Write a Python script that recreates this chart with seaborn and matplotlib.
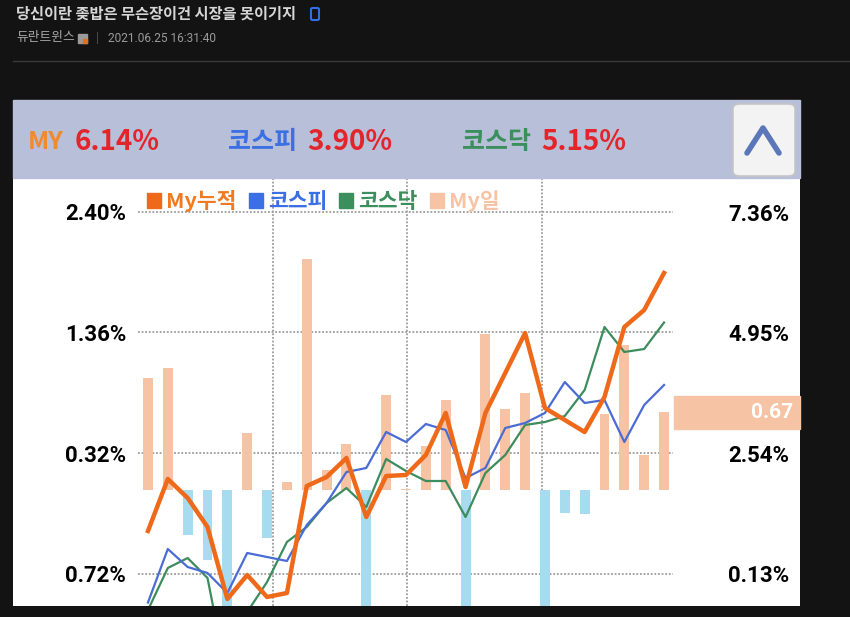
import numpy as np
import pandas as pd
import matplotlib
matplotlib.use("Agg")
import matplotlib.pyplot as plt
import matplotlib.transforms as mtransforms
from matplotlib.patches import Rectangle, FancyBboxPatch, Patch
from matplotlib.lines import Line2D
import seaborn as sns

plt.rcParams['font.family'] = ['Noto Sans CJK KR', 'DejaVu Sans']

### values (27 trading days)
days = list(range(27))
my_daily = [0.97, 1.05, -0.39, -0.60, -1.44, 0.49, -0.41, 0.07, 1.99, 0.17, 0.40, -1.18, 0.82, 0.01,
            0.38, 0.78, -1.48, 1.35, 0.70, 0.84, -1.50, -0.20, -0.21, 0.66, 1.25, 0.30, 0.67]
my_cum = [0.98, 2.02, 1.64, 1.06, -0.38, 0.10, -0.34, -0.26, 1.88, 2.06, 2.44, 1.26, 2.08, 2.10,
          2.50, 3.34, 1.86, 3.34, 4.14, 4.94, 3.44, 3.20, 2.96, 3.66, 5.06, 5.40, 6.14]
kospi_cum = [-0.45, 0.62, 0.26, 0.14, -0.26, 0.54, 0.46, 0.38, 1.10, 1.54, 2.16, 2.24, 2.96, 2.76,
             3.12, 3.00, 2.04, 2.24, 3.04, 3.14, 3.34, 3.96, 3.54, 3.60, 2.76, 3.50, 3.90]
kosdaq_cum = [-0.60, 0.24, 0.44, 0.04, -1.98, -0.64, -0.04, 0.76, 1.06, 1.54, 1.84, 1.46, 2.42, 2.18,
              1.98, 1.98, 1.26, 2.14, 2.50, 3.10, 3.16, 3.28, 3.80, 5.06, 4.56, 4.62, 5.15]

left_ticks = [-0.72, 0.32, 1.36, 2.40]
left_labels = ['0.72%', '0.32%', '1.36%', '2.40%']
right_ticks = [0.13, 2.54, 4.95, 7.36]
right_labels = ['0.13%', '2.54%', '4.95%', '7.36%']
week_breaks = [6.3, 13.05, 19.85]

header_names = ['MY', '코스피', '코스닥']
header_values = [6.14, 3.90, 5.15]
legend_labels = ['My누적', '코스피', '코스닥', 'My일']

post_title = '당신이란 좆밥은 무슨장이건 시장을 못이기지'
post_user = '듀란트윈스'
post_time = '2021.06.25 16:31:40'

ORANGE = '#ee6a1a'
BLUE = '#4a6cd4'
GREEN = '#3d8c5e'
PEACH = '#f6c3a4'
SKY = '#a6dbf0'
RED = '#e3242b'
BG = '#131313'

W, H = 850, 617
def fx(x):
    return x / W
def fy(y):
    return 1 - y / H

fig = plt.figure(figsize=(8.5, 6.17), dpi=100, facecolor=BG)

# post header
fig.text(fx(16), fy(14), post_title, color='#d6d6d6', fontsize=11, fontweight='bold', va='center')
fig.patches.append(FancyBboxPatch((fx(311), fy(20)), fx(8), 12 / H, boxstyle='round,pad=0,rounding_size=0.002',
                                  transform=fig.transFigure, fc='none', ec='#2f6fe0', lw=1.5))
fig.text(fx(16), fy(38), post_user, color='#a8a8a8', fontsize=9.2, va='center')
fig.patches.append(Rectangle((fx(78), fy(43)), fx(9), 9 / H, transform=fig.transFigure, color='#9a9a9a'))
fig.patches.append(Rectangle((fx(83), fy(43)), fx(4), 4 / H, transform=fig.transFigure, color='#e07020'))
fig.text(fx(96), fy(38), '|', color='#5a5a5a', fontsize=8, va='center')
fig.text(fx(108), fy(38), post_time, color='#9a9a9a', fontsize=8.6, va='center', family='Roboto')
fig.add_artist(Line2D([fx(13), 1], [fy(61), fy(61)], color='#3a3a3a', lw=1))

# lavender summary band
fig.patches.append(Rectangle((fx(13), fy(178)), fx(787), 78 / H, transform=fig.transFigure, color='#b8bfd8'))
name_colors = ['#f08a2c', '#3b6fe4', '#3a8f5c']
name_x = [28, 228, 462]
value_x = [75, 307, 541]
for nm, v, c, x0, x1 in zip(header_names, header_values, name_colors, name_x, value_x):
    fig.text(fx(x0), fy(142), nm, color=c, fontsize=18, fontweight='bold', va='center')
    fig.text(fx(x1), fy(142), f'{v:.2f}%', color=RED, fontsize=20, fontweight='bold', va='center')

fig.patches.append(FancyBboxPatch((fx(733), fy(176)), fx(62), 72 / H, boxstyle='round,pad=0,rounding_size=0.008',
                                  transform=fig.transFigure, fc='#f3f3f3', ec='#c6c6c6', lw=1.2))
fig.add_artist(Line2D([fx(747), fx(763), fx(779)], [fy(153), fy(128), fy(153)], color='#5b77b9',
                      lw=4, solid_capstyle='round', solid_joinstyle='round'))

# chart area
ax = fig.add_axes([fx(13), fy(606), fx(787), 428 / H])
ax.set_facecolor('white')

df = pd.DataFrame({'day': days, 'ret': my_daily})
df['sign'] = np.where(df['ret'] >= 0, 'up', 'down')
sns.barplot(data=df, x='day', y='ret', hue='sign', palette={'up': PEACH, 'down': SKY},
            native_scale=True, width=0.5, dodge=False, legend=False, errorbar=None,
            saturation=1, ax=ax, zorder=2)

ax.hlines(left_ticks, -0.5, 26.45, colors='#9c9c9c', linestyles=(0, (1, 1)), lw=1.3, zorder=1)
for b in week_breaks:
    ax.axvline(b, color='#9c9c9c', ls=(0, (1, 1)), lw=1.3, zorder=1)

ax2 = ax.twinx()
sns.lineplot(x=days, y=kosdaq_cum, ax=ax2, color=GREEN, lw=1.6)
sns.lineplot(x=days, y=kospi_cum, ax=ax2, color=BLUE, lw=1.6)
sns.lineplot(x=days, y=my_cum, ax=ax2, color=ORANGE, lw=3.2)

ax.set_xlim(-6.80, 32.85)
ax.set_ylim(-1.0, 2.693)
ax2.set_ylim(-0.52, 8.04)

ax.set_xticks([])
ax.set_xlabel('')
ax.set_ylabel('')
ax2.set_ylabel('')
ax.set_yticks(left_ticks)
ax.set_yticklabels(left_labels)
ax2.set_yticks(right_ticks)
ax2.set_yticklabels(right_labels)
ax.tick_params(axis='y', length=0, pad=-81.4, labelsize=16)
ax2.tick_params(axis='y', length=0, pad=-51.8, labelsize=16)
for lbl in ax.get_yticklabels() + ax2.get_yticklabels():
    lbl.set_fontweight('bold')
    lbl.set_fontfamily('Roboto')
for a in (ax, ax2):
    for s in a.spines.values():
        s.set_visible(False)

# last daily value marker on the right
last = my_daily[-1]
trans = mtransforms.blended_transform_factory(ax.transAxes, ax.transData)
ax.add_patch(Rectangle((0.840, last - 0.142), 0.160, 0.285, transform=trans, color=PEACH, clip_on=False))
ax.text(0.991, last, f'{last:.2f}', transform=trans, ha='right', va='center', color='white',
        fontsize=15, fontweight='bold', family='Roboto')

handles = [Patch(color=c) for c in [ORANGE, '#3b6fe4', '#3a8f5c', PEACH]]
ax2.legend(handles, legend_labels, loc='upper left', bbox_to_anchor=(fx(147), fy(190)),
           bbox_transform=fig.transFigure, ncol=4, frameon=False, handlelength=0.65, handleheight=0.65,
           handletextpad=0.25, columnspacing=0.55, borderpad=0, borderaxespad=0,
           labelcolor=['#f07a22', '#3b6fe4', '#3a8f5c', PEACH], prop=dict(weight='bold', size=15.5))

fig.savefig('out.png', dpi=100, facecolor=BG)
